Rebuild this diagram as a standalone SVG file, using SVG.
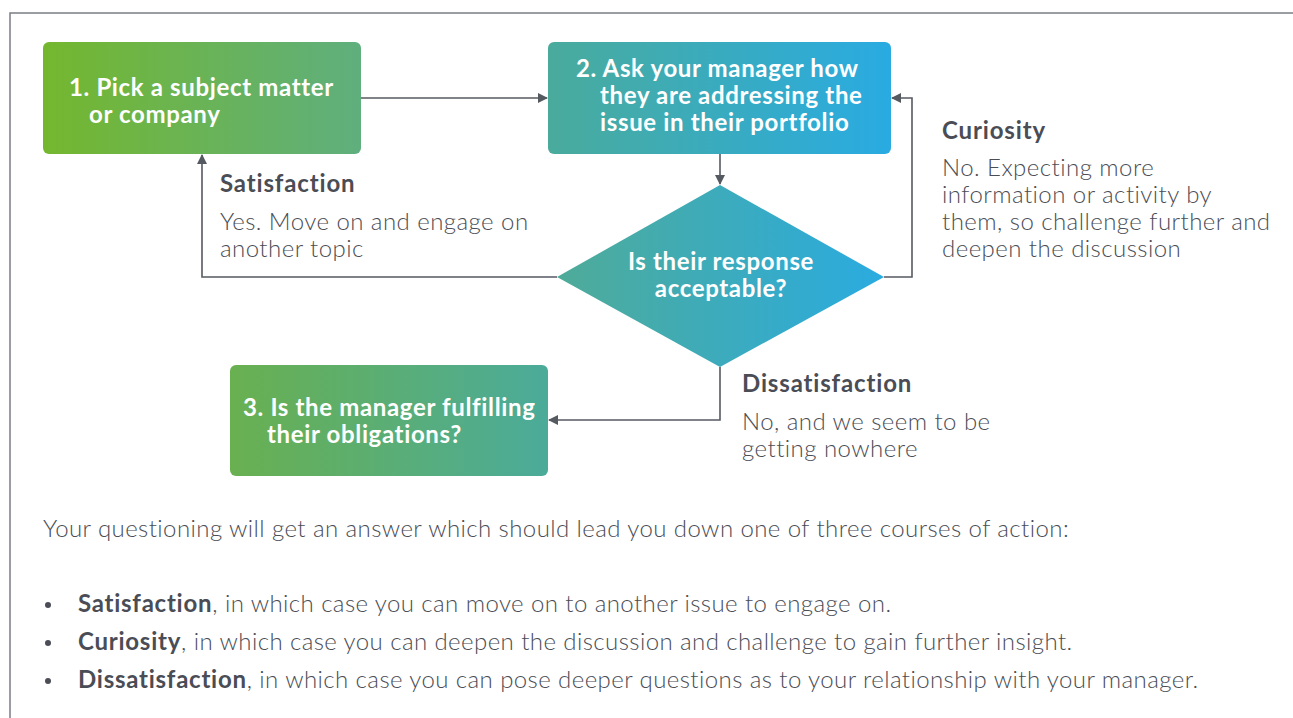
<svg xmlns="http://www.w3.org/2000/svg" width="1293" height="718" viewBox="0 0 1293 718">
  <defs>
    <linearGradient id="gGreen" x1="0" y1="0" x2="1" y2="0">
      <stop offset="0" stop-color="#74b72e"/>
      <stop offset="1" stop-color="#5faf7e"/>
    </linearGradient>
    <linearGradient id="gBlue" x1="0" y1="0" x2="1" y2="0">
      <stop offset="0" stop-color="#4aab9c"/>
      <stop offset="1" stop-color="#29abe2"/>
    </linearGradient>
    <linearGradient id="gDiamond" x1="0" y1="0" x2="1" y2="0">
      <stop offset="0" stop-color="#4fab98"/>
      <stop offset="1" stop-color="#2aabe0"/>
    </linearGradient>
    <linearGradient id="gTeal" x1="0" y1="0" x2="1" y2="0">
      <stop offset="0" stop-color="#69b050"/>
      <stop offset="1" stop-color="#4bab9a"/>
    </linearGradient>
    <marker id="arrow" viewBox="0 0 10 10" refX="9" refY="5" markerWidth="10" markerHeight="10" markerUnits="userSpaceOnUse" orient="auto">
      <path d="M0,0 L10,5 L0,10 Z" fill="#555a61"/>
    </marker>
    <style>
      .node-text { font-family: Lato, "Noto Sans", sans-serif; font-weight: 700; font-size: 24px; letter-spacing: 0.65px; fill: #ffffff; }
      .label-head { font-family: Lato, "Noto Sans", sans-serif; font-weight: 700; font-size: 24px; letter-spacing: 0.85px; fill: #4a4d55; }
      .label-body { font-family: Lato, "Noto Sans", sans-serif; font-weight: 300; font-size: 24px; letter-spacing: 0.45px; fill: #4a4d55; }
      .body { font-family: Lato, "Noto Sans", sans-serif; font-weight: 300; font-size: 24px; letter-spacing: 0.42px; fill: #4a4d55; }
      .bold { font-weight: 700; letter-spacing: 0.75px; }
      .conn { fill: none; stroke: #555a61; stroke-width: 1.6; }
    </style>
  </defs>

  <rect width="1293" height="718" fill="#ffffff"/>
  <!-- page frame -->
  <path d="M10,718 L10,13 L1293,13" fill="none" stroke="#7a7d82" stroke-width="1.5"/>

  <!-- connectors -->
  <g id="connectors">
    <path class="conn" d="M361,98 L547,98" marker-end="url(#arrow)"/>
    <path class="conn" d="M720,154 L720,184" marker-end="url(#arrow)"/>
    <path class="conn" d="M557,277 L202,277 L202,155" marker-end="url(#arrow)"/>
    <path class="conn" d="M884,277 L912,277 L912,98 L892,98" marker-end="url(#arrow)"/>
    <path class="conn" d="M720,367 L720,420 L549,420" marker-end="url(#arrow)"/>
  </g>

  <g id="node-pick">
    <rect x="43" y="42" width="318" height="112" rx="6" fill="url(#gGreen)"/>
    <text class="node-text" x="69" y="96">1. Pick a subject matter</text>
    <text class="node-text" x="89" y="123">or company</text>
  </g>

  <g id="node-ask">
    <rect x="548" y="42" width="343" height="112" rx="6" fill="url(#gBlue)"/>
    <text class="node-text" x="576" y="77">2. Ask your manager how</text>
    <text class="node-text" x="600" y="104">they are addressing the</text>
    <text class="node-text" x="600" y="131">issue in their portfolio</text>
  </g>

  <g id="node-decision">
    <polygon points="720,185 884,277 720,367 557,277" fill="url(#gDiamond)"/>
    <text class="node-text" x="721" y="270" text-anchor="middle">Is their response</text>
    <text class="node-text" x="721" y="297" text-anchor="middle">acceptable?</text>
  </g>

  <g id="node-obligations">
    <rect x="230" y="365" width="318" height="111" rx="6" fill="url(#gTeal)"/>
    <text class="node-text" x="243" y="416">3. Is the manager fulfilling</text>
    <text class="node-text" x="267" y="443">their obligations?</text>
  </g>

  <g id="label-satisfaction">
    <text class="label-head" x="220" y="192">Satisfaction</text>
    <text class="label-body" x="220" y="230">Yes. Move on and engage on</text>
    <text class="label-body" x="220" y="257">another topic</text>
  </g>

  <g id="label-curiosity">
    <text class="label-head" x="942" y="139">Curiosity</text>
    <text class="label-body" x="942" y="176">No. Expecting more</text>
    <text class="label-body" x="942" y="203">information or activity by</text>
    <text class="label-body" x="942" y="230">them, so challenge further and</text>
    <text class="label-body" x="942" y="257">deepen the discussion</text>
  </g>

  <g id="label-dissatisfaction">
    <text class="label-head" x="742" y="392">Dissatisfaction</text>
    <text class="label-body" x="742" y="430">No, and we seem to be</text>
    <text class="label-body" x="742" y="457">getting nowhere</text>
  </g>

  <!-- explanatory text -->
  <text class="body" x="43" y="537">Your questioning will get an answer which should lead you down one of three courses of action:</text>
  <circle cx="48" cy="605" r="3" fill="#4a4d55"/>
  <circle cx="48" cy="643" r="3" fill="#4a4d55"/>
  <circle cx="48" cy="681" r="3" fill="#4a4d55"/>
  <text class="body" x="78" y="612"><tspan class="bold">Satisfaction</tspan>, in which case you can move on to another issue to engage on.</text>
  <text class="body" x="78" y="650"><tspan class="bold">Curiosity</tspan>, in which case you can deepen the discussion and challenge to gain further insight.</text>
  <text class="body" x="78" y="688"><tspan class="bold">Dissatisfaction</tspan>, in which case you can pose deeper questions as to your relationship with your manager.</text>
</svg>
